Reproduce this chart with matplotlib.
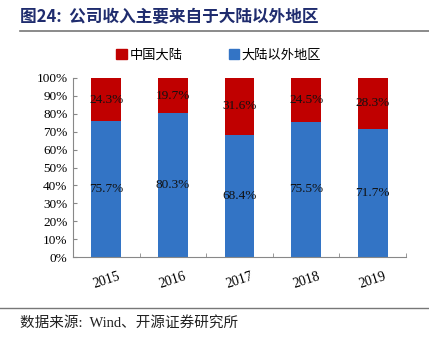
import matplotlib
matplotlib.use("Agg")
import matplotlib.pyplot as plt
from matplotlib.patches import Rectangle
from matplotlib.lines import Line2D

years = ["2015", "2016", "2017", "2018", "2019"]
mainland = [24.3, 19.7, 31.6, 24.5, 28.3]
outside = [75.7, 80.3, 68.4, 75.5, 71.7]
yticks = [0, 10, 20, 30, 40, 50, 60, 70, 80, 90, 100]

RED = "#C00000"
BLUE = "#3374C5"
SERIF = ["Liberation Serif", "Noto Sans CJK SC"]
CJK = ["Noto Sans CJK SC", "DejaVu Sans"]

fig = plt.figure(figsize=(4.29, 3.39), dpi=100)
ax = fig.add_axes([73/429, 1-257/339, (406-73)/429, (257-78)/339])

x = list(range(len(years)))
w = 0.45
ax.bar(x, outside, width=w, color=BLUE, label="大陆以外地区", zorder=2)
ax.bar(x, mainland, width=w, bottom=outside, color=RED, label="中国大陆", zorder=2)

for i in x:
    ax.text(i, outside[i] / 2, f"{outside[i]:.1f}%", ha="center", va="center",
            fontsize=9.5, family=SERIF, color="#111111", zorder=3)
    ax.text(i, outside[i] + mainland[i] / 2, f"{mainland[i]:.1f}%", ha="center", va="center",
            fontsize=9.5, family=SERIF, color="#111111", zorder=3)

ax.set_xlim(-0.5, len(years) - 0.5)
ax.set_ylim(0, 100)
ax.set_yticks(yticks)
ax.set_yticklabels([f"{v}%" for v in yticks], family=SERIF, fontsize=9.5)
ax.set_xticks(x)
ax.set_xticklabels(years, family=SERIF, fontsize=10, rotation=18)
ax.tick_params(axis="x", length=0, pad=9)
ax.tick_params(axis="y", direction="in", length=3, color="#888888", pad=4)
ax.set_xticks([i - 0.5 for i in range(len(years) + 1)], minor=True)
ax.tick_params(axis="x", which="minor", direction="in", length=3, color="#888888")
for s in ["top", "right"]:
    ax.spines[s].set_visible(False)
for s in ["left", "bottom"]:
    ax.spines[s].set_color("#888888")
    ax.spines[s].set_linewidth(0.8)

handles = [Rectangle((0, 0), 1, 1, color=RED), Rectangle((0, 0), 1, 1, color=BLUE)]
fig.legend(handles, ["中国大陆", "大陆以外地区"], loc="center", bbox_to_anchor=(0.51, 1-55/339),
           ncol=2, frameon=False, prop={"family": CJK, "size": 9.5},
           handlelength=0.8, handleheight=0.8, handletextpad=0.2, columnspacing=3.5)

fig.text(20/429, 1-17/339, "图24:  公司收入主要来自于大陆以外地区", ha="left", va="center",
         fontsize=12, fontweight="bold", color="#1F2C6E", family=CJK)
fig.add_artist(Line2D([20/429, 1.0], [1-31/339, 1-31/339], color="#777777", lw=1.2))
fig.add_artist(Line2D([0.0, 1.0], [1-308/339, 1-308/339], color="#777777", lw=1.0))
fig.text(20/429, 1-323/339, "数据来源:  Wind、开源证券研究所", ha="left", va="center",
         fontsize=10.5, color="#222222", family=["Liberation Serif", "Noto Sans CJK SC"])

fig.savefig("out.png", dpi=100)
